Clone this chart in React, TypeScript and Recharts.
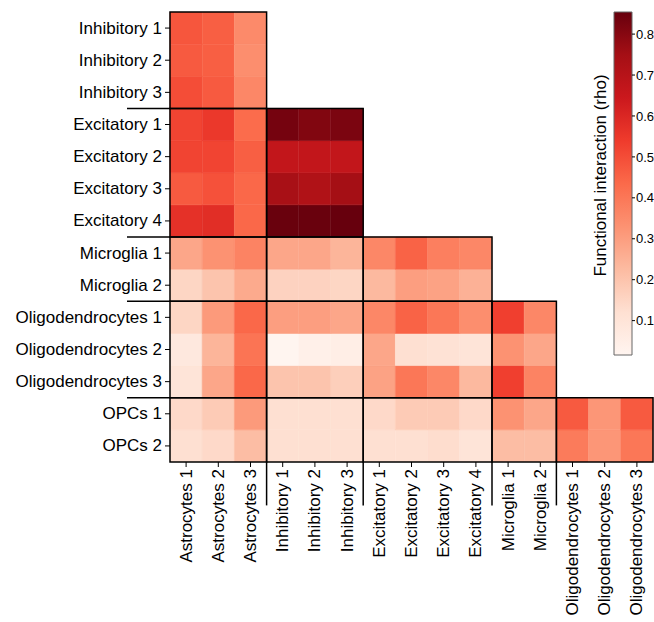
import React from "react";
import {
  BarChart,
  Bar,
  Cell,
  XAxis,
  YAxis,
  ReferenceArea,
  ReferenceLine,
  ComposedChart,
} from "recharts";

// ---------- data ----------
const colNames = [
  "Astrocytes 1", "Astrocytes 2", "Astrocytes 3",
  "Inhibitory 1", "Inhibitory 2", "Inhibitory 3",
  "Excitatory 1", "Excitatory 2", "Excitatory 3", "Excitatory 4",
  "Microglia 1", "Microglia 2",
  "Oligodendrocytes 1", "Oligodendrocytes 2", "Oligodendrocytes 3",
];

const rowNames = [
  "Inhibitory 1", "Inhibitory 2", "Inhibitory 3",
  "Excitatory 1", "Excitatory 2", "Excitatory 3", "Excitatory 4",
  "Microglia 1", "Microglia 2",
  "Oligodendrocytes 1", "Oligodendrocytes 2", "Oligodendrocytes 3",
  "OPCs 1", "OPCs 2",
];

const inhibitory1 = [0.48, 0.46, 0.35];
const inhibitory2 = [0.47, 0.46, 0.34];
const inhibitory3 = [0.5, 0.47, 0.36];
const excitatory1 = [0.52, 0.55, 0.43, 0.83, 0.81, 0.82];
const excitatory2 = [0.52, 0.52, 0.46, 0.67, 0.67, 0.67];
const excitatory3 = [0.47, 0.49, 0.44, 0.74, 0.72, 0.75];
const excitatory4 = [0.57, 0.58, 0.44, 0.85, 0.85, 0.854];
const microglia1 = [0.28, 0.33, 0.37, 0.28, 0.28, 0.24, 0.36, 0.45, 0.38, 0.36];
const microglia2 = [0.15, 0.2, 0.27, 0.16, 0.16, 0.15, 0.23, 0.3, 0.29, 0.25];
const oligodendrocytes1 = [0.15, 0.31, 0.44, 0.3, 0.3, 0.28, 0.36, 0.45, 0.4, 0.34, 0.53, 0.36];
const oligodendrocytes2 = [0.08, 0.24, 0.41, 0.016, 0.04, 0.05, 0.28, 0.12, 0.11, 0.1, 0.33, 0.28];
const oligodendrocytes3 = [0.1, 0.28, 0.44, 0.2, 0.2, 0.17, 0.29, 0.4, 0.36, 0.23, 0.53, 0.37];
const opcs1 = [0.14, 0.18, 0.31, 0.12, 0.12, 0.12, 0.14, 0.18, 0.18, 0.14, 0.33, 0.28, 0.47, 0.32, 0.47];
const opcs2 = [0.12, 0.14, 0.22, 0.12, 0.12, 0.12, 0.12, 0.12, 0.13, 0.1, 0.22, 0.22, 0.39, 0.32, 0.4];

const rowValues = [
  inhibitory1, inhibitory2, inhibitory3,
  excitatory1, excitatory2, excitatory3, excitatory4,
  microglia1, microglia2,
  oligodendrocytes1, oligodendrocytes2, oligodendrocytes3,
  opcs1, opcs2,
];

// groups (start, end index inclusive)
const rowGroups = [[0, 2], [3, 6], [7, 8], [9, 11], [12, 13]];
const colGroups = [[0, 2], [3, 5], [6, 9], [10, 11], [12, 14]];

const colorbarTicks = [0.1, 0.2, 0.3, 0.4, 0.5, 0.6, 0.7, 0.8];
const vmin = 0.016;
const vmax = 0.854;
const colorbarLabel = "Functional interaction (rho)";

// matplotlib "Reds"
const reds = [
  [255, 245, 240],
  [254, 224, 210],
  [252, 187, 161],
  [252, 146, 114],
  [251, 106, 74],
  [239, 59, 44],
  [203, 24, 29],
  [165, 15, 21],
  [103, 0, 13],
];

function redsColor(t: number): string {
  const tt = Math.max(0, Math.min(1, t)) * (reds.length - 1);
  const i = Math.min(reds.length - 2, Math.floor(tt));
  const f = tt - i;
  const a = reds[i];
  const b = reds[i + 1];
  const c = a.map((v, k) => Math.round(v + (b[k] - v) * f));
  return `rgb(${c[0]},${c[1]},${c[2]})`;
}

function valueColor(v: number): string {
  return redsColor((v - vmin) / (vmax - vmin));
}

const nRows = rowNames.length;

const tableData = colNames.map((col, j) => {
  const entry: Record<string, any> = { col };
  rowValues.forEach((vals, i) => {
    entry["r" + i] = j < vals.length ? 1 : null;
  });
  return entry;
});

const rowTicks = rowNames.map((_, i) => i + 0.5);
const boundaryTicks = rowGroups.slice(1).map((g) => nRows - g[0]);
const yTicks = [...rowTicks, ...boundaryTicks].sort((a, b) => a - b);

const FONT = "'Liberation Sans', Arial, Helvetica, sans-serif";
const TICK_SIZE = 5;
const TICK_MARGIN = 3;
const MARGIN = { top: 12, right: 1, bottom: 0, left: 0 };

function YTick(props: any) {
  const { x, y, payload } = props;
  const v = payload.value as number;
  const axisRight = x + TICK_SIZE + TICK_MARGIN;
  if (Number.isInteger(v)) {
    return <line x1={axisRight - 43} x2={axisRight} y1={y} y2={y} stroke="#000" strokeWidth={1.5} />;
  }
  const idx = nRows - 1 - Math.floor(v);
  return (
    <g>
      <line x1={axisRight - TICK_SIZE} x2={axisRight} y1={y} y2={y} stroke="#000" strokeWidth={1} />
      <text x={x} y={y} textAnchor="end" dominantBaseline="central" fontSize={17} fontFamily={FONT} fill="#000">
        {rowNames[idx]}
      </text>
    </g>
  );
}

function XTick(props: any) {
  const { x, y, payload } = props;
  return (
    <text
      x={x}
      y={y}
      transform={`rotate(-90, ${x}, ${y})`}
      textAnchor="end"
      dominantBaseline="central"
      fontSize={17}
      fontFamily={FONT}
      fill="#000"
    >
      {payload.value}
    </text>
  );
}

function ColorbarLabel(props: any) {
  const vb = props.viewBox || {};
  const cx = vb.x + vb.width / 2;
  const cy = vb.y + vb.height / 2 - 8;
  return (
    <text
      x={cx}
      y={cy}
      transform={`rotate(-90, ${cx}, ${cy})`}
      textAnchor="middle"
      dominantBaseline="central"
      fontSize={17}
      fontFamily={FONT}
      fill="#000"
    >
      {colorbarLabel}
    </text>
  );
}

export default function App() {
  const bars = [];
  for (let i = nRows - 1; i >= 0; i--) {
    const vals = rowValues[i];
    bars.push(
      <Bar key={"r" + i} dataKey={"r" + i} stackId="s" isAnimationActive={false}>
        {colNames.map((c, j) => {
          const fill = j < vals.length ? valueColor(vals[j]) : "transparent";
          return <Cell key={c} fill={fill} stroke={fill} strokeWidth={0.6} />;
        })}
      </Bar>
    );
  }

  const areas = [];
  rowGroups.forEach((rg, g) => {
    for (let c = 0; c <= g; c++) {
      const cg = colGroups[c];
      areas.push(
        <ReferenceArea
          key={`a${g}-${c}`}
          x1={colNames[cg[0]]}
          x2={colNames[cg[1]]}
          y1={nRows - rg[1] - 1}
          y2={nRows - rg[0]}
          fill="none"
          stroke="#000"
          strokeWidth={1.5}
          ifOverflow="visible"
        />
      );
    }
  });

  const vlines = colGroups.slice(1).map((cg) => (
    <ReferenceLine
      key={"v" + cg[0]}
      segment={[
        { x: colNames[cg[0]], y: 0 },
        { x: colNames[cg[0]], y: -1.35 },
      ]}
      position="start"
      stroke="#000"
      strokeWidth={1.5}
      ifOverflow="visible"
    />
  ));

  return (
    <div style={{ position: "absolute", left: 0, top: 0, width: 654, height: 622, background: "#fff" }}>
      <div style={{ position: "absolute", left: 0, top: 0 }}>
        <BarChart width={654} height={622} data={tableData} margin={MARGIN} barCategoryGap={0} barGap={0}>
          <XAxis
            dataKey="col"
            type="category"
            height={160}
            interval={0}
            tickSize={TICK_SIZE}
            tickMargin={2}
            tick={XTick}
            axisLine={false}
            tickLine={{ stroke: "#000" }}
          />
          <YAxis
            type="number"
            domain={[0, nRows]}
            ticks={yTicks}
            interval={0}
            width={170}
            tickSize={TICK_SIZE}
            tickMargin={TICK_MARGIN}
            tick={YTick}
            tickLine={false}
            axisLine={false}
            allowDataOverflow
          />
          {bars}
          {vlines}
        </BarChart>
      </div>
      {/* overlay with block outlines drawn above the cells */}
      <div style={{ position: "absolute", left: 0, top: 0, pointerEvents: "none" }}>
        <BarChart width={654} height={622} data={tableData} margin={MARGIN} barCategoryGap={0} barGap={0}>
          <XAxis dataKey="col" type="category" height={160} interval={0} tick={false} tickLine={false} axisLine={false} />
          <YAxis type="number" domain={[0, nRows]} width={170} tick={false} tickLine={false} axisLine={false} allowDataOverflow />
          {areas}
        </BarChart>
      </div>
      <div style={{ position: "absolute", left: 560, top: 0 }}>
        <ComposedChart width={94} height={370} data={[{ x: 0 }, { x: 1 }]} margin={{ top: 12, right: 0, bottom: 15, left: 26 }}>
          <defs>
            <linearGradient id="cbGrad" x1="0" y1="1" x2="0" y2="0">
              {reds.map((c, i) => (
                <stop key={i} offset={`${(i / (reds.length - 1)) * 100}%`} stopColor={`rgb(${c[0]},${c[1]},${c[2]})`} />
              ))}
            </linearGradient>
          </defs>
          <XAxis xAxisId="cx" dataKey="x" type="number" domain={[0, 1]} hide />
          <YAxis
            yAxisId="l"
            orientation="left"
            width={28}
            type="number"
            domain={[0, 1]}
            tick={false}
            tickLine={false}
            axisLine={false}
            label={<ColorbarLabel />}
          />
          <YAxis
            yAxisId="r"
            orientation="right"
            width={22}
            type="number"
            domain={[vmin, vmax]}
            ticks={colorbarTicks}
            interval={0}
            tickSize={3}
            tickMargin={1}
            axisLine={false}
            tickLine={{ stroke: "#000" }}
            tick={{ fontSize: 13, fontFamily: FONT, fill: "#000", textAnchor: "start" }}
            allowDataOverflow
          />
          <ReferenceArea
            xAxisId="cx"
            yAxisId="r"
            x1={0}
            x2={1}
            y1={vmin}
            y2={vmax}
            fill="url(#cbGrad)"
            fillOpacity={1}
            stroke="#666"
            strokeWidth={1}
            ifOverflow="visible"
          />
        </ComposedChart>
      </div>
    </div>
  );
}
